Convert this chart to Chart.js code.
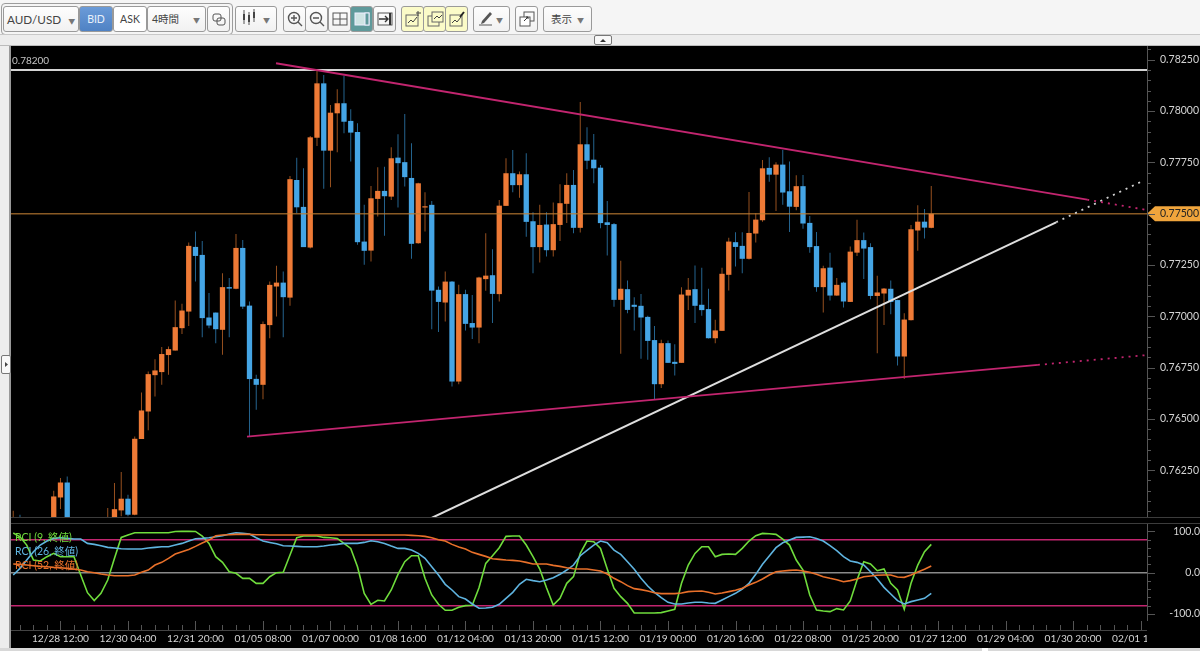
<!DOCTYPE html>
<html>
<head>
<meta charset="utf-8">
<title>AUD/USD</title>
<script src="https://cdn.jsdelivr.net/npm/chart.js@4"></script>
<style>
html, body { margin:0; padding:0; background:#f5f5f5; overflow:hidden; }
body { width:1200px; height:651px; position:relative; font-family:Lato,"Noto Sans CJK JP",sans-serif; }
canvas { position:absolute; display:block; }
.box { position:absolute; box-sizing:border-box; }
.btn { position:absolute; box-sizing:border-box; top:6px; height:26px; background:linear-gradient(#fdfdfd,#f1f1f1); border:1px solid #9a9a9a; border-radius:3px; font-size:10.5px; color:#444; line-height:24px; text-align:center; white-space:nowrap; }
.btn svg { display:block; margin:3px auto 0; }
.arrow { font-size:7px; color:#777; margin-left:5px; }
.yellow { background:#fbfbc8; }
</style>
</head>
<body>
<!-- toolbar -->
<div class="box" style="left:1px;top:3px;width:232px;height:32px;border:1px solid #9c9c9c;border-radius:4px"></div>
<div class="btn" style="left:3px;width:76px;text-align:left;padding-left:3px;font-size:11.7px">AUD/USD<span class="arrow" style="margin-left:7px">&#9660;</span></div>
<div class="btn" style="left:79px;width:34px;background:linear-gradient(#6b9bd8,#4f82c4);color:#e8f0fa">BID</div>
<div class="btn" style="left:113px;width:34px;background:#fff">ASK</div>
<div class="btn" style="left:147px;width:59px;text-align:left;padding-left:4px">4時間<span class="arrow" style="margin-left:14px">&#9660;</span></div>
<div class="btn" style="left:207px;width:23px"><svg width="18" height="18"><rect x="3" y="4" width="8" height="7" rx="2" fill="none" stroke="#555"/><rect x="7" y="8" width="8" height="7" rx="2" fill="none" stroke="#555"/></svg></div>
<div class="btn" style="left:235px;width:42px;text-align:right;padding-right:6px"><svg width="16" height="18" style="position:absolute;left:5px;top:1px;margin:0"><path d="M3 2v14M8 4v13M13 1v13" stroke="#555"/><rect x="2" y="6" width="2" height="6" fill="#444"/><rect x="7" y="7" width="2" height="7" fill="#444"/><rect x="12" y="4" width="2" height="6" fill="#444"/></svg><span class="arrow">&#9660;</span></div>
<div class="btn" style="left:283px;width:23px"><svg width="18" height="18"><circle cx="8" cy="8" r="5.5" fill="none" stroke="#555" stroke-width="1.4"/><path d="M5 8h6M8 5v6M12 12l4 4" stroke="#555" stroke-width="1.4"/></svg></div>
<div class="btn" style="left:305px;width:23px"><svg width="18" height="18"><circle cx="8" cy="8" r="5.5" fill="none" stroke="#555" stroke-width="1.4"/><path d="M5 8h6M12 12l4 4" stroke="#555" stroke-width="1.4"/></svg></div>
<div class="btn" style="left:328px;width:23px"><svg width="18" height="18"><rect x="2" y="3" width="14" height="12" fill="none" stroke="#555"/><path d="M9 3v12M2 9h14" stroke="#555"/></svg></div>
<div class="btn" style="left:350px;width:23px;background:#5f9a9b"><svg width="18" height="18"><rect x="2" y="3" width="14" height="12" fill="#cfe4e4" stroke="#eef"/><rect x="12" y="3" width="4" height="12" fill="#5f9a9b" stroke="#eef"/></svg></div>
<div class="btn" style="left:373px;width:23px"><svg width="18" height="18"><rect x="2" y="3" width="14" height="12" fill="none" stroke="#555"/><path d="M3 9h9M9 6l3 3-3 3" fill="none" stroke="#333" stroke-width="1.4"/><path d="M14 3v12" stroke="#333" stroke-width="2"/></svg></div>
<div class="btn yellow" style="left:401px;width:23px"><svg width="18" height="18"><rect x="2" y="5" width="12" height="11" fill="none" stroke="#666"/><path d="M4 13l3-3 2 2 4-5M14 1v5M12 3h5" fill="none" stroke="#444"/></svg></div>
<div class="btn yellow" style="left:423px;width:23px"><svg width="18" height="18"><rect x="2" y="6" width="11" height="10" fill="none" stroke="#666"/><rect x="6" y="2" width="11" height="10" fill="#fbfbc8" stroke="#666"/><path d="M8 9l3-3 2 2 3-3" fill="none" stroke="#444"/></svg></div>
<div class="btn yellow" style="left:445px;width:23px"><svg width="18" height="18"><rect x="2" y="5" width="12" height="11" fill="none" stroke="#666"/><path d="M4 13l3-3 2 2 4-5" fill="none" stroke="#444"/><path d="M12 7l4-5" stroke="#222" stroke-width="2"/></svg></div>
<div class="btn" style="left:473px;width:37px;text-align:right;padding-right:6px"><svg width="16" height="18" style="position:absolute;left:4px;top:2px;margin:0"><path d="M4 12l8-9 2 2-8 9-3 1z" fill="#555"/><path d="M1 16h13" stroke="#555"/></svg><span class="arrow">&#9660;</span></div>
<div class="btn" style="left:515px;width:23px"><svg width="18" height="18"><rect x="6" y="2" width="10" height="9" fill="none" stroke="#555"/><rect x="2" y="7" width="10" height="9" fill="#fff" stroke="#555"/><path d="M6 11l4-4M8 7h2v2" fill="none" stroke="#333"/></svg></div>
<div class="btn" style="left:543px;width:49px">表示<span class="arrow">&#9660;</span></div>

<!-- strip above the chart -->
<div class="box" style="left:0;top:34px;width:1200px;height:12px;background:#ececec;border-top:1px solid #c8c8c8;border-bottom:1px solid #bbb"></div>
<div class="box" style="left:594px;top:35px;width:18px;height:10px;background:#f8f8f8;border:1px solid #777;border-radius:2px"><svg width="16" height="8" style="display:block"><path d="M5 6h6l-3-3z" fill="#333"/></svg></div>

<!-- left side strip -->
<div class="box" style="left:0;top:46px;width:11px;height:605px;background:#ededed;border-right:2px solid #999"></div>
<div class="box" style="left:1px;top:355px;width:10px;height:19px;background:#f8f8f8;border:1px solid #777;border-radius:2px"><svg width="8" height="17" style="display:block"><path d="M3 6v5l3-2.5z" fill="#444"/></svg></div>

<!-- black chart area -->
<div class="box" style="left:11px;top:46px;width:1189px;height:605px;background:#000"></div>
<div class="box" style="left:11px;top:517px;width:1189px;height:1px;background:#3c3c3c;z-index:3"></div>
<div class="box" style="left:11px;top:523px;width:1189px;height:1px;background:#3c3c3c;z-index:3"></div>
<div class="box" style="left:11px;top:630px;width:1136px;height:1px;background:#444;z-index:3"></div>
<div class="box" style="left:0;top:648px;width:1200px;height:3px;background:#d8d8d8;z-index:3"></div>
<div class="box" style="left:982px;top:648px;width:6px;height:3px;background:#fff;z-index:3"></div>

<canvas id="priceCanvas" width="1189" height="472" style="left:11px;top:46px"></canvas>
<canvas id="rciCanvas" width="1189" height="128" style="left:11px;top:523px"></canvas>

<script>
// candles, oldest first, one every 4 hours
var opens = [
	.7594,.7600,.7596,.7594,.7596,.7597,.7599,.76117,.7619,.7595,
	.7592,.7590,.7593,.7591,.7596,.7600,.76054,.76111,.76033,.76402,
	.76536,.76713,.76728,.76811,.76833,.76942,.77023,.77338,.77299,.76994,
	.77018,.76934,.77142,.77134,.77333,.77052,.76695,.76666,.76957,.77145,
	.77164,.77091,.77664,.77533,.77335,.7787,.78135,.77807,.77989,.78038,
	.77952,.77898,.77364,.7732,.77572,.77611,.77583,.77773,.77751,.77674,
	.77356,.7753,.77543,.77129,.77067,.77169,.76682,.77108,.76967,.76945,
	.77181,.772,.77108,.77538,.77697,.77639,.77692,.77463,.77337,.77447,
	.77322,.77445,.77548,.7764,.77431,.77838,.77763,.77724,.77458,.77449,
	.7708,.77132,.77056,.77051,.76997,.76884,.76669,.76869,.76778,.76773,
	.77101,.77132,.77056,.77035,.76893,.76929,.77202,.77361,.77343,.7728,
	.77403,.77468,.77723,.7769,.77739,.77609,.77533,.77634,.77455,.77342,
	.77142,.77237,.77101,.77164,.7707,.7731,.77371,.77337,.77099,.77111,
	.77134,.77079,.76804,.76981,.77418,.77461,.77431
];
var highs = [
	.76052,.76033,.7600,.7598,.7600,.7600,.7615,.76212,.76219,.7598,
	.7597,.7595,.7597,.7596,.76066,.76187,.76241,.7613,.76414,.76629,
	.76731,.76791,.7685,.76853,.77077,.77061,.77359,.77413,.77367,.77113,
	.77018,.7721,.77186,.77401,.77372,.77072,.76715,.76974,.77169,.77246,
	.77218,.77684,.77773,.77721,.77879,.78197,.78176,.7803,.78106,.78172,
	.78009,.77941,.77543,.77635,.77726,.77729,.77824,.77887,.77986,.77843,
	.77651,.77604,.77562,.77145,.77218,.77172,.77153,.77129,.77104,.77192,
	.77405,.77327,.77567,.7777,.7781,.77705,.77794,.77507,.77543,.77507,
	.77554,.77643,.77697,.77713,.78044,.77921,.77888,.77737,.77562,.77455,
	.77271,.77174,.77093,.77108,.77002,.76953,.76885,.76882,.76864,.77142,
	.77186,.77247,.77237,.77134,.76983,.77237,.77383,.7741,.7741,.77606,
	.77502,.77762,.77775,.77751,.7781,.77754,.77687,.77689,.77489,.77411,
	.77246,.7731,.77186,.77168,.7734,.7747,.77408,.77356,.77197,.77138,
	.77174,.7708,.77015,.77445,.77541,.77523,.77635
];
var lows = [
	.7590,.7592,.7590,.7589,.7592,.7593,.7595,.76061,.7590,.7588,
	.7586,.7585,.7588,.7587,.7593,.7596,.76025,.76025,.7603,.76402,
	.76444,.76609,.76666,.76715,.76833,.76914,.76953,.77169,.76898,.76942,
	.76869,.76812,.76898,.77132,.77035,.76414,.76544,.76596,.76893,.76999,
	.76898,.77051,.77502,.77337,.7733,.7783,.77621,.77629,.77799,.77892,
	.77754,.77348,.77251,.77267,.77486,.77392,.77567,.7753,.77632,.7728,
	.77353,.77413,.76937,.76923,.76974,.76658,.76669,.76931,.76889,.76869,
	.77124,.76967,.77072,.77538,.77604,.77578,.77387,.7721,.77262,.77291,
	.77291,.77367,.77454,.77405,.77408,.77717,.77648,.77429,.77296,.77047,
	.76817,.77015,.76931,.76793,.76788,.76593,.7665,.76772,.76711,.76773,
	.77031,.76967,.77002,.76892,.76869,.76929,.77125,.77242,.7721,.77277,
	.77359,.77461,.77656,.77513,.77544,.77411,.77517,.77427,.7731,.7712,
	.77018,.77077,.771,.77043,.77069,.77294,.77182,.77083,.7682,.76958,
	.7701,.7676,.76694,.7698,.77319,.77379,.77429
];
var closes = [
	.7600,.7596,.7594,.7596,.7597,.7599,.76122,.7619,.7595,.7592,
	.7590,.7593,.7591,.7594,.7600,.7606,.76111,.76033,.76403,.76541,
	.76718,.76736,.76816,.7684,.76947,.77028,.77343,.77294,.76991,.76955,
	.76937,.77142,.77135,.77333,.77047,.76694,.76666,.76962,.77153,.77164,
	.77093,.77668,.77531,.77337,.77872,.78135,.77807,.77992,.78038,.77948,
	.77895,.77361,.77319,.77575,.77611,.77585,.7777,.77746,.77678,.77353,
	.77648,.77536,.77125,.7707,.77169,.76682,.77108,.76963,.76945,.77189,
	.77198,.77109,.77539,.77697,.77639,.77692,.7746,.77337,.77445,.77322,
	.77449,.77551,.7764,.77431,.77838,.77758,.77721,.77454,.77445,.7708,
	.77134,.77031,.77046,.76994,.7688,.76669,.76869,.76773,.76768,.77106,
	.77129,.77051,.7703,.76893,.76931,.77207,.77364,.77338,.7728,.77406,
	.77471,.77721,.7769,.77739,.77603,.77534,.77634,.77452,.77337,.77142,
	.77234,.77101,.77153,.77072,.77315,.77371,.7733,.77099,.77116,.77135,
	.7707,.76804,.76984,.77424,.77461,.77432,.775
];

// oscillator, one value per candle
var rci9 = [
	95.9,87,66.9,30.6,28.2,38.7,46.7,38.7,38.7,38.7,
	-5.6,-48.4,-67.7,-50,-17.7,34.7,85.4,91.1,96.7,96.7,
	96.7,96.7,96.7,96.7,99.9,100,100,99.9,88.7,70.9,
	38.7,25,2.4,-1.6,-13.7,-13.7,-25.8,-25.8,-9.7,0,
	.8,42.7,84.6,88.7,88.7,88.7,85.4,84.6,83,70.9,
	58.8,14.5,-50,-76.6,-66.9,-68.5,-41.9,-4,26.6,41.1,
	41.1,-13.7,-54,-76.6,-91.1,-91.1,-83.8,-79.8,-79,-36.3,
	22.6,41.1,60.5,87.9,88.7,88.7,66.9,38.7,8.9,-36.3,
	-78.2,-62.1,-25.8,-9.7,46.7,76.6,75,58.8,8.9,-37.9,
	-58,-74.2,-97.5,-97.5,-97.5,-97.5,-96.7,-92.7,-88.7,-25.8,
	18.5,46.7,62.9,62.9,38.7,44.3,45.1,44.3,58.8,76.6,
	89.5,95.1,94.3,92.7,81.4,66.9,30.6,6.4,-54,-90.3,
	-92.7,-94.3,-87,-90.3,-68.5,-17.7,26.6,21,4.8,8.9,
	-25.8,-41.9,-88.7,-25.8,18.5,50.8,68.5
];
var rci26 = [
	-5.6,10.5,30.6,50.8,66.9,76.6,83,84.6,83,81.4,
	81.4,70.9,68.5,65.3,61.3,59.6,58,57.2,57.2,57.2,
	59.6,61.3,62.9,62.9,66.9,70.9,76.6,82.2,83,84.6,
	87,89.5,93.5,96.7,95.1,93.5,84.6,76.6,73.3,70.1,
	65.3,64.5,63.7,62.9,62.9,62.9,64.5,66.9,68.5,70.9,
	70.9,70.9,73.3,77.4,75,70.9,64.5,58.8,58.8,54.8,
	46.7,34.7,14.5,-5.6,-28.2,-41.9,-58,-63.7,-75.8,-86.2,
	-85.4,-83.8,-76.6,-62.1,-47.6,-28.2,-16.1,-19.3,-21.8,-17.7,
	-12.1,-4,6.4,18.5,41.1,54,66.9,76.6,72.5,54.8,
	44.3,26.6,8.1,-13.7,-32.2,-47.6,-60.5,-71.7,-75.8,-75.8,
	-73.3,-71.7,-71.7,-73.3,-74.2,-66.1,-58,-50,-39.5,-25.8,
	-4,20.2,40.3,60.5,72.5,79,85.4,86.2,87,83,
	76.6,65.3,53.2,38.7,28.2,25,18.5,2.4,-15.3,-35.5,
	-51.6,-67.7,-75.8,-70.1,-66.1,-62.1,-50
];
var rci52 = [
	21,20.2,18.5,16.9,15.3,14.5,12.9,12.1,10.5,8.9,
	6.4,2.4,0,-3.2,-5.6,-7.3,-7.3,-7.3,-5.6,.8,
	6.4,18.5,25,34.7,45.1,50.8,56.4,63.7,71.7,79,
	89.5,91.1,91.9,92.7,92.7,92.7,91.9,91.9,91.1,91.1,
	91.1,91.1,91.1,91.1,91.1,91.1,91.1,91.1,91.1,91.1,
	91.1,91.1,91.1,91.1,91.1,91.1,91.1,91.1,91.1,90.3,
	89.5,87.9,84.6,79.8,76.6,68.5,62.1,57.2,49.2,44.3,
	39.5,33.9,32.2,30.6,29.8,28.2,25,21,21,21,
	17.7,15.3,12.1,9.7,8.9,8.9,6.4,4,-3.2,-13.7,
	-21.8,-31.4,-38.7,-41.1,-44.3,-48.4,-50.8,-50.8,-50.8,-49.2,
	-45.9,-45.1,-44.3,-47.6,-51.6,-49.2,-45.9,-42.7,-37.9,-29.8,
	-23.4,-15.3,-5.6,2.4,4,5.6,6.4,4,.8,-4,
	-9.7,-13.7,-16.9,-21.8,-19.3,-15.3,-9.7,-8.1,-6.4,-5.6,
	-5.6,-10.5,-11.3,-5.6,1.6,8.1,16.1
];

// time axis, one label every 10 candles starting at candle 7
var timeLabels = ['12/28 12:00','12/30 04:00','12/31 20:00','01/05 08:00','01/07 00:00','01/08 16:00','01/12 04:00','01/13 20:00','01/15 12:00','01/19 00:00','01/20 16:00','01/22 08:00','01/25 20:00','01/27 12:00','01/29 04:00','01/30 20:00','02/01 12:00'];
var firstLabelCandle = 7;
var candlesPerLabel = 10;

// hand drawn lines, as [candle number, price]
var resistanceSolid = [[38.93,.78233],[159.1,.77568]];
var resistanceDotted = [[159.1,.77568],[167.96,.77518]];
var supportSolid = [[34.63,.76414],[151.8,.76763]];
var supportDotted = [[151.8,.76763],[167.96,.76811]];
var trendSolid = [[61.9,.76016],[154.5,.77458]];
var trendDotted = [[154.5,.77458],[167.3,.77659]];
var highLevel = .782;
var currentLevel = .775;
var xMin = -0.33, xMax = 167.96;
var priceMin = .76017, priceMax = .78317;
var rciMin = -117, rciMax = 120.3;

var ORANGE = '#ee7a36', BLUE = '#45a5e5', ORANGE_WICK = '#96501f', BLUE_WICK = '#25648f';
var MAGENTA = '#c2256f', TICK = '#555', TEXT = '#d4d4d4', FONT = 'Lato, "Noto Sans CJK JP", sans-serif';

function toPoints(pairs){
	return pairs.map(function(p){ return {x:p[0], y:p[1]}; });
}

function flatLine(value){
	return [{x:xMin, y:value},{x:xMax, y:value}];
}

function drawnLine(pairs, color, dotted, width){
	return {type:'line', data:toPoints(pairs), borderColor:color, borderWidth:width || 1.8, borderDash:dotted ? [2,5] : [], pointRadius:0, order:1};
}

function candleColor(i, up, down){
	return closes[i] >= opens[i] ? up : down;
}

// tick padding would otherwise shrink the plot
function noPadding(scale){
	scale.paddingTop = 0;
	scale.paddingBottom = 0;
	scale.paddingLeft = 0;
	scale.paddingRight = 0;
}

var bodies = opens.map(function(o, i){ return {x:i, y:[o, closes[i]]}; });
var wicks = highs.map(function(h, i){ return {x:i, y:[lows[i], h]}; });

// tick marks on the right axis
function ticksPlugin(yMinor, yMajor){
	return {
		id:'ticks',
		afterDatasetsDraw:function(chart){
			var ctx = chart.ctx, y = chart.scales.y, area = chart.chartArea, v;
			ctx.save();
			ctx.strokeStyle = TICK;
			ctx.lineWidth = 1;
			ctx.beginPath();
			for (v = Math.ceil(y.min / yMinor); v * yMinor <= y.max; v++) {
				var yy = Math.round(y.getPixelForValue(v * yMinor)) + 0.5;
				var big = Math.abs(Math.round(v * yMinor / yMajor) * yMajor - v * yMinor) < yMinor / 10;
				ctx.moveTo(area.right, yy);
				ctx.lineTo(area.right + (big ? 8 : 4), yy);
			}
			ctx.stroke();
			ctx.restore();
		}
	};
}

// the orange price tag sits under the axis label
var priceTag = {
	id:'priceTag',
	beforeDraw:function(chart){
		var ctx = chart.ctx, yy = chart.scales.y.getPixelForValue(currentLevel), x = chart.chartArea.right;
		ctx.save();
		ctx.fillStyle = '#f0a53c';
		ctx.beginPath();
		ctx.moveTo(x, yy);
		ctx.lineTo(x + 8, yy - 7.5);
		ctx.lineTo(chart.width, yy - 7.5);
		ctx.lineTo(chart.width, yy + 7.5);
		ctx.lineTo(x + 8, yy + 7.5);
		ctx.closePath();
		ctx.fill();
		ctx.restore();
	},
	afterDraw:function(chart){
		var ctx = chart.ctx;
		ctx.save();
		ctx.font = '10px ' + FONT;
		ctx.fillStyle = '#c4c4c4';
		ctx.textBaseline = 'middle';
		ctx.fillText('0.78200', 1, 15);
		ctx.restore();
	}
};

new Chart(document.getElementById('priceCanvas').getContext('2d'), {
	type:'bar',
	data:{datasets:[
		{data:bodies, backgroundColor:opens.map(function(o, i){ return candleColor(i, ORANGE, BLUE); }), barThickness:5.3, inflateAmount:0, grouped:false, order:4},
		{data:wicks, backgroundColor:opens.map(function(o, i){ return candleColor(i, ORANGE_WICK, BLUE_WICK); }), barThickness:1, inflateAmount:0, grouped:false, order:5},
		{type:'line', data:flatLine(currentLevel), borderColor:'rgba(190,125,50,.72)', borderWidth:1.5, pointRadius:0, order:3},
		{type:'line', data:flatLine(highLevel), borderColor:'#d4d4d4', borderWidth:2, pointRadius:0, order:2},
		drawnLine(resistanceSolid, MAGENTA),
		drawnLine(resistanceDotted, MAGENTA, true),
		drawnLine(supportSolid, MAGENTA),
		drawnLine(supportDotted, MAGENTA, true),
		drawnLine(trendSolid, '#dedede', false, 2),
		drawnLine(trendDotted, '#cfcfcf', true)
	]},
	options:{
		responsive:false,
		animation:false,
		devicePixelRatio:1,
		layout:{padding:0, autoPadding:false},
		plugins:{legend:{display:false}, tooltip:{enabled:false}},
		scales:{
			x:{type:'linear', offset:false, min:xMin, max:xMax, display:false},
			y:{
				position:'right', min:priceMin, max:priceMax,
				grid:{display:false, drawTicks:false},
				border:{display:true, color:TICK},
				afterFit:function(scale){ scale.width = 53; noPadding(scale); },
				afterBuildTicks:function(scale){
					var out = [], k;
					for (k = 305; k <= 313; k++) out.push({value:k * .0025});
					scale.ticks = out;
				},
				ticks:{
					padding:13,
					color:function(c){ return Math.abs(c.tick.value - currentLevel) < 1e-6 ? '#222' : TEXT; },
					font:{family:FONT, size:10.5},
					callback:function(v){ return v.toFixed(5); }
				}
			}
		}
	},
	plugins:[priceTag, ticksPlugin(.0005, .0025)]
});

// legend labels, time axis marks and the cut at the end of the time axis
var rciDecor = {
	id:'rciDecor',
	afterDraw:function(chart){
		var ctx = chart.ctx, x = chart.scales.x, area = chart.chartArea, i;
		ctx.save();
		ctx.fillStyle = '#000';
		ctx.fillRect(area.right, area.bottom, chart.width - area.right, chart.height - area.bottom);
		ctx.strokeStyle = TICK;
		ctx.beginPath();
		for (i = firstLabelCandle - 6; i <= xMax; i += 2) {
			var xx = Math.round(x.getPixelForValue(i)) + 0.5;
			var big = (i - firstLabelCandle) % candlesPerLabel === 0;
			ctx.moveTo(xx, 107);
			ctx.lineTo(xx, big ? 98 : 102);
		}
		ctx.stroke();
		ctx.font = '10.5px ' + FONT;
		ctx.textBaseline = 'middle';
		chart.data.datasets.slice(0, 3).forEach(function(d, k){
			ctx.fillStyle = d.borderColor;
			ctx.fillText(d.label, 4, 15 + k * 14);
		});
		ctx.restore();
	}
};

function levelLine(value, color){
	return {data:flatLine(value), borderColor:color, borderWidth:1.5, pointRadius:0, order:5};
}

function rciLine(label, values, color, order){
	return {
		label:label,
		data:values.map(function(v, i){ return {x:i, y:v}; }),
		borderColor:color, borderWidth:1.6, pointRadius:0, order:order
	};
}

new Chart(document.getElementById('rciCanvas').getContext('2d'), {
	type:'line',
	data:{datasets:[
		rciLine('RCI (9, 終値)', rci9, '#6fdc3c', 3),
		rciLine('RCI (26, 終値)', rci26, '#5fb4e0', 2),
		rciLine('RCI (52, 終値)', rci52, '#e8702a', 1),
		levelLine(80, MAGENTA),
		levelLine(0, '#8a8a8a'),
		levelLine(-80, MAGENTA)
	]},
	options:{
		responsive:false,
		animation:false,
		devicePixelRatio:1,
		layout:{padding:0, autoPadding:false},
		plugins:{legend:{display:false}, tooltip:{enabled:false}},
		scales:{
			x:{
				type:'linear', min:xMin, max:xMax, offset:false,
				grid:{display:false, drawTicks:false},
				border:{display:false},
				afterFit:function(scale){ scale.height = 30; noPadding(scale); },
				afterBuildTicks:function(scale){
					scale.ticks = timeLabels.map(function(t, k){ return {value:firstLabelCandle + k * candlesPerLabel}; });
				},
				ticks:{
					padding:12, maxRotation:0, autoSkip:false, color:TEXT,
					font:{family:FONT, size:10.2},
					callback:function(v){ return timeLabels[(v - firstLabelCandle) / candlesPerLabel]; }
				}
			},
			y:{
				position:'right', min:rciMin, max:rciMax,
				grid:{display:false, drawTicks:false},
				border:{display:true, color:TICK},
				afterFit:function(scale){ scale.width = 53; noPadding(scale); },
				afterBuildTicks:function(scale){ scale.ticks = [{value:100},{value:0},{value:-100}]; },
				ticks:{
					padding:9, crossAlign:'far', color:TEXT,
					font:{family:FONT, size:10.5},
					callback:function(v){ return v.toFixed(1); }
				}
			}
		}
	},
	plugins:[rciDecor, ticksPlugin(20, 100)]
});
</script>
</body>
</html>
